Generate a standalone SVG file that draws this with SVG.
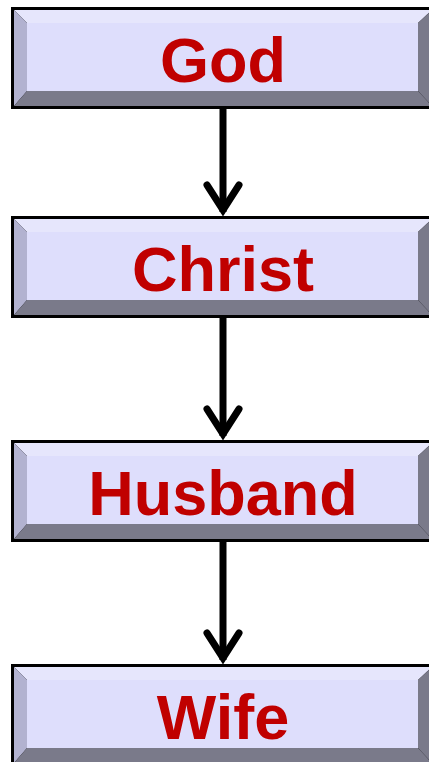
<svg xmlns="http://www.w3.org/2000/svg" width="429" height="762" viewBox="0 0 429 762">
<defs>
<style>
.frame{fill:#000}
.top{fill:#e6e6fc}
.left{fill:#b2b2d0}
.dark{fill:#7a7a8a}
.face{fill:#dedefc}
.lbl{font-family:"Liberation Sans",Arial,sans-serif;font-weight:bold;font-size:63px;fill:#c00000;text-anchor:middle}
.conn{stroke:#000;stroke-width:7;fill:none}
.head{stroke:#000;stroke-width:7;fill:none;stroke-linecap:round;stroke-linejoin:miter}
</style>
<g id="bevel">
<rect class="frame" x="0" y="0" width="424" height="102"/>
<polygon class="top" points="3,3 421,3 407,16 16,16"/>
<polygon class="left" points="3,3 16,16 16,84 3,99"/>
<polygon class="dark" points="421,3 421,99 407,84 407,16"/>
<polygon class="dark" points="3,99 16,84 407,84 421,99"/>
<rect class="face" x="16" y="16" width="391" height="68"/>
</g>
</defs>
<g id="connectors">
<line class="conn" x1="223" y1="108" x2="223" y2="212"/>
<path class="head" d="M207,185 L223,210 L239,185"/>
<line class="conn" x1="223" y1="316" x2="223" y2="436"/>
<path class="head" d="M207,409 L223,434 L239,409"/>
<line class="conn" x1="223" y1="540" x2="223" y2="660"/>
<path class="head" d="M207,633 L223,658 L239,633"/>
</g>
<g id="god" transform="translate(11,7)">
<use href="#bevel"/>
<text class="lbl" x="212" y="75">God</text>
</g>
<g id="christ" transform="translate(11,216)">
<use href="#bevel"/>
<text class="lbl" x="212" y="75">Christ</text>
</g>
<g id="husband" transform="translate(11,440)">
<use href="#bevel"/>
<text class="lbl" x="212" y="75">Husband</text>
</g>
<g id="wife" transform="translate(11,664)">
<use href="#bevel"/>
<text class="lbl" x="212" y="75">Wife</text>
</g>
</svg>
